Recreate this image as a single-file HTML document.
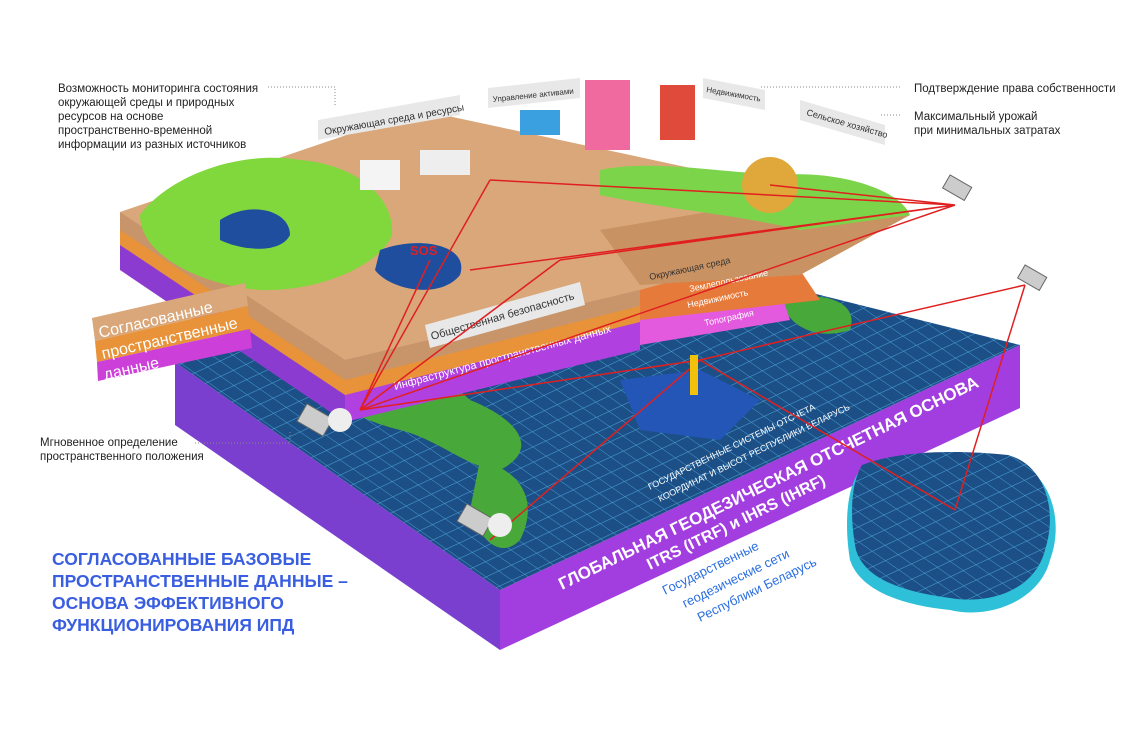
<!DOCTYPE html>
<html><head><meta charset="utf-8"><style>
body{margin:0;background:#fff;width:1146px;height:732px;overflow:hidden;font-family:"Liberation Sans",sans-serif}
svg{position:absolute;left:0;top:0}
.t{position:absolute;font-size:11.5px;color:#222;line-height:14px}
</style></head><body>
<svg width="1146" height="732" viewBox="0 0 1146 732">
<defs>
<pattern id="g" width="14" height="14" patternUnits="userSpaceOnUse" patternTransform="rotate(-25) skewX(30)">
<rect width="14" height="14" fill="#1c4f86"/><path d="M0 0H14M0 0V14" stroke="#4aa3d8" stroke-width="1"/></pattern>
</defs>
<polygon points="175,362 500,590 500,650 175,425" fill="#7b3fd0"/>
<polygon points="500,590 1020,345 1020,408 500,650" fill="#a23ee0"/>
<polygon points="175,362 620,245 1020,345 500,590" fill="url(#g)"/>
<path d="M330,380 C380,360 440,370 470,400 C520,420 540,450 500,470 C470,470 440,440 400,430 C360,420 320,400 330,380Z" fill="#48a83a"/>
<path d="M480,460 C520,470 540,500 520,540 C500,560 480,540 470,510Z" fill="#48a83a"/>
<path d="M780,300 C820,290 860,300 850,330 C820,340 790,330 780,300Z" fill="#48a83a"/>
<path d="M620,380 L700,370 L760,400 L720,440 L640,430Z" fill="#2456b8"/>
<path d="M860,470 C900,455 960,455 1010,460 C1050,470 1065,520 1050,560 C1040,600 990,620 950,610 C900,605 860,590 850,560 C845,530 845,490 860,470Z" fill="#2ec0d8"/>
<path d="M862,465 C900,450 960,450 1008,455 C1045,465 1058,510 1045,550 C1035,590 990,605 950,598 C905,592 865,580 856,550 C850,520 850,485 862,465Z" fill="url(#g)"/>
<polygon points="120,212 345,360 345,422 120,270" fill="#8c3bd0"/>
<polygon points="120,212 345,360 345,395 120,245" fill="#e8923a"/>
<polygon points="120,212 345,360 345,380 120,230" fill="#c8946a"/>
<polygon points="345,360 640,290 640,350 345,422" fill="#b040e0"/>
<polygon points="345,360 640,290 640,322 345,395" fill="#e8923a"/>
<polygon points="345,360 640,290 640,306 345,380" fill="#c8946a"/>
<polygon points="640,290 780,290 790,320 640,345" fill="#e45adf"/>
<polygon points="640,275 800,270 820,300 640,320" fill="#e67a3a"/>
<polygon points="120,212 420,110 910,215 640,290 345,360" fill="#d9a77a"/>
<polygon points="600,230 780,200 910,215 800,275 640,285" fill="#c99262"/>
<path d="M600,170 C650,160 700,170 780,175 C840,170 900,190 910,215 L800,230 C740,215 670,210 600,195Z" fill="#7cd44a"/>
<path d="M140,215 C170,175 240,150 300,160 C360,165 395,200 392,235 C380,265 320,292 260,290 C200,285 140,255 140,215Z" fill="#80d83c"/>
<path d="M220,220 C250,200 290,210 290,235 C280,255 240,250 220,240Z" fill="#1f4e9e"/>
<path d="M380,250 C420,235 470,245 460,275 C440,300 390,290 375,270Z" fill="#1f4e9e"/>
<circle cx="770" cy="185" r="28" fill="#e0a83a"/>
<rect x="520" y="110" width="40" height="25" fill="#3aa0e0"/>
<rect x="585" y="80" width="45" height="70" fill="#f06aa0"/>
<rect x="660" y="85" width="35" height="55" fill="#e04a3a"/>
<rect x="420" y="150" width="50" height="25" fill="#eee"/>
<rect x="360" y="160" width="40" height="30" fill="#f4f4f4"/>
<polygon points="318,120 460,95 460,115 318,140" fill="#e8e8e8"/>
<polygon points="488,88 580,78 580,98 488,108" fill="#e8e8e8"/>
<polygon points="703,78 765,90 765,110 703,98" fill="#e8e8e8"/>
<polygon points="800,100 885,125 885,145 800,120" fill="#e8e8e8"/>
<polygon points="425,325 580,282 585,305 430,348" fill="#e8e8e8"/>
<polygon points="92,318 245,283 248,306 95,341" fill="#d9a77a"/>
<polygon points="95,341 248,306 250,329 97,362" fill="#e8923a"/>
<polygon points="97,362 250,329 252,348 98,381" fill="#cc3fd8"/>
<text x="100" y="338" fill="#fff" font-size="16" transform="rotate(-13 100 338)">Согласованные</text>
<text x="103" y="359" fill="#fff" font-size="16" transform="rotate(-13 103 359)">пространственные</text>
<text x="105" y="380" fill="#fff" font-size="16" transform="rotate(-13 105 380)">данные</text>
<text x="325" y="135" font-size="10" fill="#333" transform="rotate(-10 325 135)">Окружающая среда и ресурсы</text>
<text x="493" y="102" font-size="8" fill="#333" transform="rotate(-6 493 102)">Управление активами</text>
<text x="706" y="92" font-size="8" fill="#333" transform="rotate(10 706 92)">Недвижимость</text>
<text x="806" y="115" font-size="9" fill="#333" transform="rotate(16 806 115)">Сельское хозяйство</text>
<text x="432" y="340" font-size="11" fill="#333" transform="rotate(-16 432 340)">Общественная безопасность</text>
<text x="395" y="390" font-size="11" fill="#fff" transform="rotate(-15 395 390)">Инфраструктура пространственных данных</text>
<text x="650" y="280" font-size="9" fill="#333" transform="rotate(-12 650 280)">Окружающая среда</text>
<text x="690" y="292" font-size="9" fill="#fff" transform="rotate(-12 690 292)">Землепользование</text>
<text x="688" y="308" font-size="9" fill="#fff" transform="rotate(-12 688 308)">Недвижимость</text>
<text x="705" y="326" font-size="9" fill="#fff" transform="rotate(-12 705 326)">Топография</text>
<text x="410" y="255" font-size="13" font-weight="bold" fill="#e02020">SOS</text>
<text x="562" y="590" font-size="17" font-weight="bold" fill="#fff" transform="rotate(-26 562 590)">ГЛОБАЛЬНАЯ ГЕОДЕЗИЧЕСКАЯ ОТСЧЕТНАЯ ОСНОВА</text>
<text x="650" y="570" font-size="16" font-weight="bold" fill="#fff" transform="rotate(-26 650 570)">ITRS (ITRF) и IHRS (IHRF)</text>
<text x="650" y="490" font-size="9" fill="#fff" transform="rotate(-26 650 490)">ГОСУДАРСТВЕННЫЕ СИСТЕМЫ ОТСЧЕТА</text>
<text x="660" y="502" font-size="9" fill="#fff" transform="rotate(-26 660 502)">КООРДИНАТ И ВЫСОТ РЕСПУБЛИКИ БЕЛАРУСЬ</text>
<text x="665" y="595" font-size="13" fill="#2a6ee0" transform="rotate(-26 665 595)">Государственные</text>
<text x="685" y="608" font-size="13" fill="#2a6ee0" transform="rotate(-26 685 608)">геодезические сети</text>
<text x="700" y="622" font-size="13" fill="#2a6ee0" transform="rotate(-26 700 622)">Республики Беларусь</text>
<g stroke="#e02020" stroke-width="1.5" fill="none">
<path d="M360,410 L955,205 M360,410 L430,260 M360,410 L490,180 M360,410 L560,260 M490,180 L955,205 M560,260 L955,205 M470,270 L955,205 M770,185 L955,205 M360,410 L700,360 M700,360 L1025,285 M955,510 L700,360 M955,510 L1025,285 M490,540 L700,360"/>
</g>
<g fill="#ccc" stroke="#666"><rect x="945" y="180" width="25" height="15" transform="rotate(30 957 187)"/><rect x="1020" y="270" width="25" height="15" transform="rotate(30 1032 277)"/><rect x="300" y="410" width="30" height="20" transform="rotate(30 315 420)"/><rect x="460" y="510" width="30" height="20" transform="rotate(30 475 520)"/></g>
<circle cx="340" cy="420" r="12" fill="#eee"/><circle cx="500" cy="525" r="12" fill="#eee"/>
<rect x="690" y="355" width="8" height="40" fill="#f2c20a"/>
<g stroke="#888" stroke-dasharray="1,2" fill="none"><path d="M268,87 H335 V105 M195,443 H290 V430 M900,87 H760 M900,115 H880"/></g>
</svg>
<div class="t" style="left:58px;top:82px">Возможность мониторинга состояния<br>окружающей среды и природных<br>ресурсов на основе<br>пространственно-временной<br>информации из разных источников</div>
<div class="t" style="left:914px;top:82px">Подтверждение права собственности</div>
<div class="t" style="left:914px;top:110px">Максимальный урожай<br>при минимальных затратах</div>
<div class="t" style="left:40px;top:436px">Мгновенное определение<br>пространственного положения</div>
<div style="position:absolute;left:52px;top:548px;font-size:17.5px;font-weight:bold;color:#3a5ee0;line-height:22px">СОГЛАСОВАННЫЕ БАЗОВЫЕ<br>ПРОСТРАНСТВЕННЫЕ ДАННЫЕ –<br>ОСНОВА ЭФФЕКТИВНОГО<br>ФУНКЦИОНИРОВАНИЯ ИПД</div>
</body></html>
